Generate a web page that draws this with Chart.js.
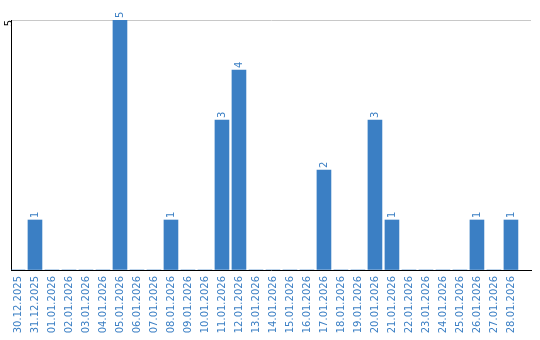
<!DOCTYPE html>
<html>
<head>
<meta charset="utf-8">
<script src="https://cdn.jsdelivr.net/npm/chart.js@4"></script>
<style>
  html, body { margin: 0; padding: 0; background: #fff; }
  #wrap { width: 540px; height: 340px; }
</style>
</head>
<body>
<div id="wrap"><canvas id="chart" width="540" height="340"></canvas></div>
<script>
// dates shown under the bars
const days = [
    '30.12.2025', '31.12.2025', '01.01.2026', '02.01.2026', '03.01.2026',
    '04.01.2026', '05.01.2026', '06.01.2026', '07.01.2026', '08.01.2026',
    '09.01.2026', '10.01.2026', '11.01.2026', '12.01.2026', '13.01.2026',
    '14.01.2026', '15.01.2026', '16.01.2026', '17.01.2026', '18.01.2026',
    '19.01.2026', '20.01.2026', '21.01.2026', '22.01.2026', '23.01.2026',
    '24.01.2026', '25.01.2026', '26.01.2026', '27.01.2026', '28.01.2026'
];
// count per day
const counts = [
    0, 1, 0, 0, 0,
    0, 5, 0, 0, 1,
    0, 0, 3, 4, 0,
    0, 0, 0, 2, 0,
    0, 3, 1, 0, 0,
    0, 0, 1, 0, 1
];
const yTicks = [5];

const blue = '#3b7fc4';
const font = { family: 'DejaVu Sans', size: 10 };

// rotated numbers above the bars
const barValues = {
    id: 'barValues',
    afterDatasetsDraw(chart) {
        const ctx = chart.ctx;
        const meta = chart.getDatasetMeta(0);
        ctx.save();
        ctx.fillStyle = blue;
        ctx.font = '10px "DejaVu Sans"';
        ctx.textAlign = 'left';
        ctx.textBaseline = 'middle';
        meta.data.forEach((bar, i) => {
            if (!counts[i]) return;
            ctx.save();
            ctx.translate(bar.x, bar.y - 2);
            ctx.rotate(-Math.PI / 2);
            ctx.fillText(String(counts[i]), 0, 0);
            ctx.restore();
        });
        ctx.restore();
    }
};

new Chart(document.getElementById('chart').getContext('2d'), {
    type: 'bar',
    data: {
        datasets: [{
            data: counts.map((v, i) => ({ x: i, y: v })),
            backgroundColor: blue,
            borderWidth: 0,
            barThickness: 14
        }]
    },
    options: {
        responsive: false,
        animation: false,
        layout: { padding: { top: 20, right: 9, left: 0, bottom: 0 } },
        plugins: {
            legend: { display: false },
            tooltip: { enabled: false }
        },
        scales: {
            x: {
                type: 'linear',
                offset: false,
                min: -0.41,
                max: 30.18,
                afterFit: (s) => {
                    s.height = 70;
                    s.paddingLeft = 0;
                    s.paddingRight = 0;
                },
                grid: { display: false, drawTicks: false, offset: false },
                border: { color: '#000', width: 1 },
                ticks: {
                    stepSize: 1,
                    includeBounds: false,
                    autoSkip: false,
                    minRotation: 90,
                    maxRotation: 90,
                    padding: 6,
                    color: blue,
                    font: font,
                    callback: (v) => days[v] ?? ''
                }
            },
            y: {
                min: 0,
                max: 5,
                afterFit: (s) => {
                    s.width = 11;
                    s.paddingTop = 0;
                    s.paddingBottom = 0;
                },
                border: { color: '#000', width: 1 },
                grid: {
                    drawTicks: false,
                    color: (c) => yTicks.includes(c.tick.value) ? '#c8c8c8' : 'rgba(0,0,0,0)'
                },
                ticks: {
                    stepSize: 5,
                    minRotation: 90,
                    maxRotation: 90,
                    padding: 2,
                    color: '#000',
                    font: { family: 'DejaVu Sans', size: 10 },
                    callback: (v) => yTicks.includes(v) ? String(v) : ''
                }
            }
        }
    },
    plugins: [barValues]
});
</script>
</body>
</html>
